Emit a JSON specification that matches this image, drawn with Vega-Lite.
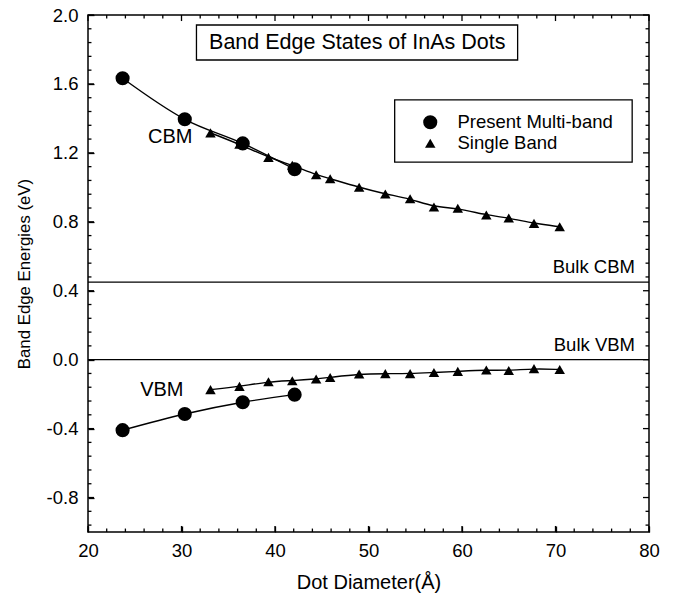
{
  "$schema": "https://vega.github.io/schema/vega-lite/v6.json",
  "autosize": "none",
  "width": 561,
  "height": 517,
  "padding": {"left": 88, "top": 15, "right": 30, "bottom": 67},
  "background": "white",
  "config": {
    "view": {"stroke": "black", "strokeWidth": 1.5},
    "font": "Liberation Sans",
    "axis": {
      "grid": false,
      "domain": false,
      "tickColor": "black",
      "tickWidth": 1.3,
      "labelColor": "black",
      "titleColor": "black",
      "labelFont": "Liberation Sans",
      "titleFont": "Liberation Sans",
      "labelFontSize": 18.5,
      "labelFlush": false,
      "labelOverlap": false,
      "titleFontWeight": "normal"
    },
    "legend": {
      "labelFont": "Liberation Sans",
      "labelFontSize": 18.5,
      "labelColor": "black"
    }
  },
  "datasets": {
    "xt": [
      {"v": 20, "kind": "major"}, {"v": 30, "kind": "major"}, {"v": 40, "kind": "major"}, {"v": 50, "kind": "major"},
      {"v": 60, "kind": "major"}, {"v": 70, "kind": "major"}, {"v": 80, "kind": "major"},
      {"v": 22, "kind": "minor"}, {"v": 24, "kind": "minor"}, {"v": 26, "kind": "minor"}, {"v": 28, "kind": "minor"},
      {"v": 32, "kind": "minor"}, {"v": 34, "kind": "minor"}, {"v": 36, "kind": "minor"}, {"v": 38, "kind": "minor"},
      {"v": 42, "kind": "minor"}, {"v": 44, "kind": "minor"}, {"v": 46, "kind": "minor"}, {"v": 48, "kind": "minor"},
      {"v": 52, "kind": "minor"}, {"v": 54, "kind": "minor"}, {"v": 56, "kind": "minor"}, {"v": 58, "kind": "minor"},
      {"v": 62, "kind": "minor"}, {"v": 64, "kind": "minor"}, {"v": 66, "kind": "minor"}, {"v": 68, "kind": "minor"},
      {"v": 72, "kind": "minor"}, {"v": 74, "kind": "minor"}, {"v": 76, "kind": "minor"}, {"v": 78, "kind": "minor"}
    ],
    "yt": [
      {"v": -0.8, "kind": "major"}, {"v": -0.4, "kind": "major"}, {"v": 0, "kind": "major"}, {"v": 0.4, "kind": "major"},
      {"v": 0.8, "kind": "major"}, {"v": 1.2, "kind": "major"}, {"v": 1.6, "kind": "major"}, {"v": 2.0, "kind": "major"},
      {"v": -0.96, "kind": "minor"}, {"v": -0.88, "kind": "minor"},
      {"v": -0.72, "kind": "minor"}, {"v": -0.64, "kind": "minor"}, {"v": -0.56, "kind": "minor"}, {"v": -0.48, "kind": "minor"},
      {"v": -0.32, "kind": "minor"}, {"v": -0.24, "kind": "minor"}, {"v": -0.16, "kind": "minor"}, {"v": -0.08, "kind": "minor"},
      {"v": 0.08, "kind": "minor"}, {"v": 0.16, "kind": "minor"}, {"v": 0.24, "kind": "minor"}, {"v": 0.32, "kind": "minor"},
      {"v": 0.48, "kind": "minor"}, {"v": 0.56, "kind": "minor"}, {"v": 0.64, "kind": "minor"}, {"v": 0.72, "kind": "minor"},
      {"v": 0.88, "kind": "minor"}, {"v": 0.96, "kind": "minor"}, {"v": 1.04, "kind": "minor"}, {"v": 1.12, "kind": "minor"},
      {"v": 1.28, "kind": "minor"}, {"v": 1.36, "kind": "minor"}, {"v": 1.44, "kind": "minor"}, {"v": 1.52, "kind": "minor"},
      {"v": 1.68, "kind": "minor"}, {"v": 1.76, "kind": "minor"}, {"v": 1.84, "kind": "minor"}, {"v": 1.92, "kind": "minor"}
    ],
    "pts": [
      {"d": 33.1, "e": 1.316, "series": "Single Band", "band": "CBM"},
      {"d": 36.2, "e": 1.25, "series": "Single Band", "band": "CBM"},
      {"d": 39.3, "e": 1.174, "series": "Single Band", "band": "CBM"},
      {"d": 41.85, "e": 1.128, "series": "Single Band", "band": "CBM"},
      {"d": 44.4, "e": 1.073, "series": "Single Band", "band": "CBM"},
      {"d": 45.9, "e": 1.05, "series": "Single Band", "band": "CBM"},
      {"d": 49.0, "e": 1.0, "series": "Single Band", "band": "CBM"},
      {"d": 51.8, "e": 0.961, "series": "Single Band", "band": "CBM"},
      {"d": 54.45, "e": 0.934, "series": "Single Band", "band": "CBM"},
      {"d": 57.0, "e": 0.886, "series": "Single Band", "band": "CBM"},
      {"d": 59.55, "e": 0.879, "series": "Single Band", "band": "CBM"},
      {"d": 62.6, "e": 0.839, "series": "Single Band", "band": "CBM"},
      {"d": 65.0, "e": 0.822, "series": "Single Band", "band": "CBM"},
      {"d": 67.7, "e": 0.791, "series": "Single Band", "band": "CBM"},
      {"d": 70.45, "e": 0.771, "series": "Single Band", "band": "CBM"},
      {"d": 33.1, "e": -0.174, "series": "Single Band", "band": "VBM"},
      {"d": 36.2, "e": -0.155, "series": "Single Band", "band": "VBM"},
      {"d": 39.3, "e": -0.128, "series": "Single Band", "band": "VBM"},
      {"d": 41.85, "e": -0.122, "series": "Single Band", "band": "VBM"},
      {"d": 44.4, "e": -0.112, "series": "Single Band", "band": "VBM"},
      {"d": 45.9, "e": -0.103, "series": "Single Band", "band": "VBM"},
      {"d": 49.0, "e": -0.083, "series": "Single Band", "band": "VBM"},
      {"d": 51.8, "e": -0.081, "series": "Single Band", "band": "VBM"},
      {"d": 54.45, "e": -0.081, "series": "Single Band", "band": "VBM"},
      {"d": 57.0, "e": -0.074, "series": "Single Band", "band": "VBM"},
      {"d": 59.55, "e": -0.068, "series": "Single Band", "band": "VBM"},
      {"d": 62.6, "e": -0.06, "series": "Single Band", "band": "VBM"},
      {"d": 65.0, "e": -0.063, "series": "Single Band", "band": "VBM"},
      {"d": 67.7, "e": -0.052, "series": "Single Band", "band": "VBM"},
      {"d": 70.45, "e": -0.057, "series": "Single Band", "band": "VBM"},
      {"d": 23.7, "e": 1.633, "series": "Present Multi-band", "band": "CBM"},
      {"d": 30.35, "e": 1.395, "series": "Present Multi-band", "band": "CBM"},
      {"d": 36.55, "e": 1.255, "series": "Present Multi-band", "band": "CBM"},
      {"d": 42.1, "e": 1.105, "series": "Present Multi-band", "band": "CBM"},
      {"d": 23.7, "e": -0.409, "series": "Present Multi-band", "band": "VBM"},
      {"d": 30.35, "e": -0.315, "series": "Present Multi-band", "band": "VBM"},
      {"d": 36.55, "e": -0.247, "series": "Present Multi-band", "band": "VBM"},
      {"d": 42.1, "e": -0.203, "series": "Present Multi-band", "band": "VBM"}
    ]
  },
  "layer": [
    {
      "data": {"values": [
        {"x1": 31.6, "x2": 65.95, "y1": 1.739, "y2": 1.942},
        {"x1": 52.8, "x2": 78.2, "y1": 1.146, "y2": 1.507}
      ]},
      "mark": {"type": "rect", "fill": "white", "stroke": "black", "strokeWidth": 1.3},
      "encoding": {
        "x": {"field": "x1", "type": "quantitative", "scale": {"domain": [20, 80], "nice": false},
          "axis": {"orient": "bottom", "values": [20, 30, 40, 50, 60, 70, 80], "ticks": true, "tickSize": 6, "offset": -6, "labelPadding": 9, "format": "d", "title": "Dot Diameter(Å)", "titleFontSize": 20, "titleBaseline": "middle", "titleY": 56}},
        "x2": {"field": "x2"},
        "y": {"field": "y1", "type": "quantitative", "scale": {"domain": [-1, 2], "nice": false, "zero": false},
          "axis": {"orient": "left", "values": [-0.8, -0.4, 0, 0.4, 0.8, 1.2, 1.6, 2.0], "ticks": true, "tickSize": 6, "offset": -6, "labelPadding": 10, "labelExpr": "replace(format(datum.value, '.1f'), '−', '-')", "title": "Band Edge Energies (eV)", "titleFontSize": 16.8, "titleBaseline": "middle", "titleX": -70}},
        "y2": {"field": "y2"}
      }
    },
    {
      "data": {"name": "xt"},
      "transform": [{"filter": "datum.kind === 'major'"}],
      "mark": {"type": "rule", "color": "black", "strokeWidth": 1.3},
      "encoding": {
        "x": {"field": "v", "type": "quantitative", "scale": {"domain": [20, 80], "nice": false},
          "axis": {"orient": "bottom", "values": [20, 30, 40, 50, 60, 70, 80], "ticks": true, "tickSize": 6, "offset": -6, "labelPadding": 9, "format": "d", "title": "Dot Diameter(Å)", "titleFontSize": 20, "titleBaseline": "middle", "titleY": 56}},
        "y": {"datum": -1, "type": "quantitative", "scale": {"domain": [-1, 2], "nice": false, "zero": false},
          "axis": {"orient": "left", "values": [-0.8, -0.4, 0, 0.4, 0.8, 1.2, 1.6, 2.0], "ticks": true, "tickSize": 6, "offset": -6, "labelPadding": 10, "labelExpr": "replace(format(datum.value, '.1f'), '−', '-')", "title": "Band Edge Energies (eV)", "titleFontSize": 16.8, "titleBaseline": "middle", "titleX": -70}},
        "y2": {"datum": -0.965}
      }
    },
    {
      "data": {"name": "xt"},
      "transform": [{"filter": "datum.kind === 'minor'"}],
      "mark": {"type": "rule", "color": "black", "strokeWidth": 1.3},
      "encoding": {
        "x": {"field": "v", "type": "quantitative", "scale": {"domain": [20, 80], "nice": false},
          "axis": {"orient": "bottom", "values": [20, 30, 40, 50, 60, 70, 80], "ticks": true, "tickSize": 6, "offset": -6, "labelPadding": 9, "format": "d", "title": "Dot Diameter(Å)", "titleFontSize": 20, "titleBaseline": "middle", "titleY": 56}},
        "y": {"datum": -1, "type": "quantitative", "scale": {"domain": [-1, 2], "nice": false, "zero": false},
          "axis": {"orient": "left", "values": [-0.8, -0.4, 0, 0.4, 0.8, 1.2, 1.6, 2.0], "ticks": true, "tickSize": 6, "offset": -6, "labelPadding": 10, "labelExpr": "replace(format(datum.value, '.1f'), '−', '-')", "title": "Band Edge Energies (eV)", "titleFontSize": 16.8, "titleBaseline": "middle", "titleX": -70}},
        "y2": {"datum": -0.98}
      }
    },
    {
      "data": {"name": "xt"},
      "transform": [{"filter": "datum.kind === 'major'"}],
      "mark": {"type": "rule", "color": "black", "strokeWidth": 1.3},
      "encoding": {
        "x": {"field": "v", "type": "quantitative", "scale": {"domain": [20, 80], "nice": false},
          "axis": {"orient": "bottom", "values": [20, 30, 40, 50, 60, 70, 80], "ticks": true, "tickSize": 6, "offset": -6, "labelPadding": 9, "format": "d", "title": "Dot Diameter(Å)", "titleFontSize": 20, "titleBaseline": "middle", "titleY": 56}},
        "y": {"datum": 2, "type": "quantitative", "scale": {"domain": [-1, 2], "nice": false, "zero": false},
          "axis": {"orient": "left", "values": [-0.8, -0.4, 0, 0.4, 0.8, 1.2, 1.6, 2.0], "ticks": true, "tickSize": 6, "offset": -6, "labelPadding": 10, "labelExpr": "replace(format(datum.value, '.1f'), '−', '-')", "title": "Band Edge Energies (eV)", "titleFontSize": 16.8, "titleBaseline": "middle", "titleX": -70}},
        "y2": {"datum": 1.965}
      }
    },
    {
      "data": {"name": "xt"},
      "transform": [{"filter": "datum.kind === 'minor'"}],
      "mark": {"type": "rule", "color": "black", "strokeWidth": 1.3},
      "encoding": {
        "x": {"field": "v", "type": "quantitative", "scale": {"domain": [20, 80], "nice": false},
          "axis": {"orient": "bottom", "values": [20, 30, 40, 50, 60, 70, 80], "ticks": true, "tickSize": 6, "offset": -6, "labelPadding": 9, "format": "d", "title": "Dot Diameter(Å)", "titleFontSize": 20, "titleBaseline": "middle", "titleY": 56}},
        "y": {"datum": 2, "type": "quantitative", "scale": {"domain": [-1, 2], "nice": false, "zero": false},
          "axis": {"orient": "left", "values": [-0.8, -0.4, 0, 0.4, 0.8, 1.2, 1.6, 2.0], "ticks": true, "tickSize": 6, "offset": -6, "labelPadding": 10, "labelExpr": "replace(format(datum.value, '.1f'), '−', '-')", "title": "Band Edge Energies (eV)", "titleFontSize": 16.8, "titleBaseline": "middle", "titleX": -70}},
        "y2": {"datum": 1.98}
      }
    },
    {
      "data": {"name": "yt"},
      "transform": [{"filter": "datum.kind === 'major'"}],
      "mark": {"type": "rule", "color": "black", "strokeWidth": 1.3},
      "encoding": {
        "y": {"field": "v", "type": "quantitative", "scale": {"domain": [-1, 2], "nice": false, "zero": false},
          "axis": {"orient": "left", "values": [-0.8, -0.4, 0, 0.4, 0.8, 1.2, 1.6, 2.0], "ticks": true, "tickSize": 6, "offset": -6, "labelPadding": 10, "labelExpr": "replace(format(datum.value, '.1f'), '−', '-')", "title": "Band Edge Energies (eV)", "titleFontSize": 16.8, "titleBaseline": "middle", "titleX": -70}},
        "x": {"datum": 20, "type": "quantitative", "scale": {"domain": [20, 80], "nice": false},
          "axis": {"orient": "bottom", "values": [20, 30, 40, 50, 60, 70, 80], "ticks": true, "tickSize": 6, "offset": -6, "labelPadding": 9, "format": "d", "title": "Dot Diameter(Å)", "titleFontSize": 20, "titleBaseline": "middle", "titleY": 56}},
        "x2": {"datum": 20.64}
      }
    },
    {
      "data": {"name": "yt"},
      "transform": [{"filter": "datum.kind === 'minor'"}],
      "mark": {"type": "rule", "color": "black", "strokeWidth": 1.3},
      "encoding": {
        "y": {"field": "v", "type": "quantitative", "scale": {"domain": [-1, 2], "nice": false, "zero": false},
          "axis": {"orient": "left", "values": [-0.8, -0.4, 0, 0.4, 0.8, 1.2, 1.6, 2.0], "ticks": true, "tickSize": 6, "offset": -6, "labelPadding": 10, "labelExpr": "replace(format(datum.value, '.1f'), '−', '-')", "title": "Band Edge Energies (eV)", "titleFontSize": 16.8, "titleBaseline": "middle", "titleX": -70}},
        "x": {"datum": 20, "type": "quantitative", "scale": {"domain": [20, 80], "nice": false},
          "axis": {"orient": "bottom", "values": [20, 30, 40, 50, 60, 70, 80], "ticks": true, "tickSize": 6, "offset": -6, "labelPadding": 9, "format": "d", "title": "Dot Diameter(Å)", "titleFontSize": 20, "titleBaseline": "middle", "titleY": 56}},
        "x2": {"datum": 20.37}
      }
    },
    {
      "data": {"name": "yt"},
      "transform": [{"filter": "datum.kind === 'major'"}],
      "mark": {"type": "rule", "color": "black", "strokeWidth": 1.3},
      "encoding": {
        "y": {"field": "v", "type": "quantitative", "scale": {"domain": [-1, 2], "nice": false, "zero": false},
          "axis": {"orient": "left", "values": [-0.8, -0.4, 0, 0.4, 0.8, 1.2, 1.6, 2.0], "ticks": true, "tickSize": 6, "offset": -6, "labelPadding": 10, "labelExpr": "replace(format(datum.value, '.1f'), '−', '-')", "title": "Band Edge Energies (eV)", "titleFontSize": 16.8, "titleBaseline": "middle", "titleX": -70}},
        "x": {"datum": 80, "type": "quantitative", "scale": {"domain": [20, 80], "nice": false},
          "axis": {"orient": "bottom", "values": [20, 30, 40, 50, 60, 70, 80], "ticks": true, "tickSize": 6, "offset": -6, "labelPadding": 9, "format": "d", "title": "Dot Diameter(Å)", "titleFontSize": 20, "titleBaseline": "middle", "titleY": 56}},
        "x2": {"datum": 79.36}
      }
    },
    {
      "data": {"name": "yt"},
      "transform": [{"filter": "datum.kind === 'minor'"}],
      "mark": {"type": "rule", "color": "black", "strokeWidth": 1.3},
      "encoding": {
        "y": {"field": "v", "type": "quantitative", "scale": {"domain": [-1, 2], "nice": false, "zero": false},
          "axis": {"orient": "left", "values": [-0.8, -0.4, 0, 0.4, 0.8, 1.2, 1.6, 2.0], "ticks": true, "tickSize": 6, "offset": -6, "labelPadding": 10, "labelExpr": "replace(format(datum.value, '.1f'), '−', '-')", "title": "Band Edge Energies (eV)", "titleFontSize": 16.8, "titleBaseline": "middle", "titleX": -70}},
        "x": {"datum": 80, "type": "quantitative", "scale": {"domain": [20, 80], "nice": false},
          "axis": {"orient": "bottom", "values": [20, 30, 40, 50, 60, 70, 80], "ticks": true, "tickSize": 6, "offset": -6, "labelPadding": 9, "format": "d", "title": "Dot Diameter(Å)", "titleFontSize": 20, "titleBaseline": "middle", "titleY": 56}},
        "x2": {"datum": 79.63}
      }
    },
    {
      "data": {"values": [{"e": 0.45}, {"e": 0}]},
      "mark": {"type": "rule", "color": "black", "strokeWidth": 1.2},
      "encoding": {
        "y": {"field": "e", "type": "quantitative", "scale": {"domain": [-1, 2], "nice": false, "zero": false},
          "axis": {"orient": "left", "values": [-0.8, -0.4, 0, 0.4, 0.8, 1.2, 1.6, 2.0], "ticks": true, "tickSize": 6, "offset": -6, "labelPadding": 10, "labelExpr": "replace(format(datum.value, '.1f'), '−', '-')", "title": "Band Edge Energies (eV)", "titleFontSize": 16.8, "titleBaseline": "middle", "titleX": -70}}
      }
    },
    {
      "data": {"name": "pts"},
      "transform": [{"filter": "datum.series === 'Present Multi-band'"}],
      "mark": {"type": "line", "color": "black", "strokeWidth": 1.4, "interpolate": "monotone"},
      "encoding": {
        "x": {"field": "d", "type": "quantitative", "scale": {"domain": [20, 80], "nice": false},
          "axis": {"orient": "bottom", "values": [20, 30, 40, 50, 60, 70, 80], "ticks": true, "tickSize": 6, "offset": -6, "labelPadding": 9, "format": "d", "title": "Dot Diameter(Å)", "titleFontSize": 20, "titleBaseline": "middle", "titleY": 56}},
        "y": {"field": "e", "type": "quantitative", "scale": {"domain": [-1, 2], "nice": false, "zero": false},
          "axis": {"orient": "left", "values": [-0.8, -0.4, 0, 0.4, 0.8, 1.2, 1.6, 2.0], "ticks": true, "tickSize": 6, "offset": -6, "labelPadding": 10, "labelExpr": "replace(format(datum.value, '.1f'), '−', '-')", "title": "Band Edge Energies (eV)", "titleFontSize": 16.8, "titleBaseline": "middle", "titleX": -70}},
        "detail": {"field": "band"}
      }
    },
    {
      "data": {"name": "pts"},
      "transform": [{"filter": "datum.series === 'Single Band'"}],
      "mark": {"type": "line", "color": "black", "strokeWidth": 1.4, "interpolate": "basis"},
      "encoding": {
        "x": {"field": "d", "type": "quantitative", "scale": {"domain": [20, 80], "nice": false},
          "axis": {"orient": "bottom", "values": [20, 30, 40, 50, 60, 70, 80], "ticks": true, "tickSize": 6, "offset": -6, "labelPadding": 9, "format": "d", "title": "Dot Diameter(Å)", "titleFontSize": 20, "titleBaseline": "middle", "titleY": 56}},
        "y": {"field": "e", "type": "quantitative", "scale": {"domain": [-1, 2], "nice": false, "zero": false},
          "axis": {"orient": "left", "values": [-0.8, -0.4, 0, 0.4, 0.8, 1.2, 1.6, 2.0], "ticks": true, "tickSize": 6, "offset": -6, "labelPadding": 10, "labelExpr": "replace(format(datum.value, '.1f'), '−', '-')", "title": "Band Edge Energies (eV)", "titleFontSize": 16.8, "titleBaseline": "middle", "titleX": -70}},
        "detail": {"field": "band"}
      }
    },
    {
      "data": {"values": [{"d": 48.8, "e": 1.84, "label": "Band Edge States of InAs Dots"}]},
      "mark": {"type": "text", "fontSize": 21.5, "color": "black", "align": "center", "baseline": "middle"},
      "encoding": {
        "x": {"field": "d", "type": "quantitative", "scale": {"domain": [20, 80], "nice": false},
          "axis": {"orient": "bottom", "values": [20, 30, 40, 50, 60, 70, 80], "ticks": true, "tickSize": 6, "offset": -6, "labelPadding": 9, "format": "d", "title": "Dot Diameter(Å)", "titleFontSize": 20, "titleBaseline": "middle", "titleY": 56}},
        "y": {"field": "e", "type": "quantitative", "scale": {"domain": [-1, 2], "nice": false, "zero": false},
          "axis": {"orient": "left", "values": [-0.8, -0.4, 0, 0.4, 0.8, 1.2, 1.6, 2.0], "ticks": true, "tickSize": 6, "offset": -6, "labelPadding": 10, "labelExpr": "replace(format(datum.value, '.1f'), '−', '-')", "title": "Band Edge Energies (eV)", "titleFontSize": 16.8, "titleBaseline": "middle", "titleX": -70}},
        "text": {"field": "label"}
      }
    },
    {
      "data": {"values": [{"d": 28.8, "e": 1.29, "label": "CBM"}, {"d": 27.9, "e": -0.177, "label": "VBM"}]},
      "mark": {"type": "text", "fontSize": 20, "color": "black", "align": "center", "baseline": "middle"},
      "encoding": {
        "x": {"field": "d", "type": "quantitative", "scale": {"domain": [20, 80], "nice": false},
          "axis": {"orient": "bottom", "values": [20, 30, 40, 50, 60, 70, 80], "ticks": true, "tickSize": 6, "offset": -6, "labelPadding": 9, "format": "d", "title": "Dot Diameter(Å)", "titleFontSize": 20, "titleBaseline": "middle", "titleY": 56}},
        "y": {"field": "e", "type": "quantitative", "scale": {"domain": [-1, 2], "nice": false, "zero": false},
          "axis": {"orient": "left", "values": [-0.8, -0.4, 0, 0.4, 0.8, 1.2, 1.6, 2.0], "ticks": true, "tickSize": 6, "offset": -6, "labelPadding": 10, "labelExpr": "replace(format(datum.value, '.1f'), '−', '-')", "title": "Band Edge Energies (eV)", "titleFontSize": 16.8, "titleBaseline": "middle", "titleX": -70}},
        "text": {"field": "label"}
      }
    },
    {
      "data": {"values": [{"d": 78.5, "e": 0.539, "label": "Bulk CBM"}, {"d": 78.5, "e": 0.087, "label": "Bulk VBM"}]},
      "mark": {"type": "text", "fontSize": 18.5, "color": "black", "align": "right", "baseline": "middle"},
      "encoding": {
        "x": {"field": "d", "type": "quantitative", "scale": {"domain": [20, 80], "nice": false},
          "axis": {"orient": "bottom", "values": [20, 30, 40, 50, 60, 70, 80], "ticks": true, "tickSize": 6, "offset": -6, "labelPadding": 9, "format": "d", "title": "Dot Diameter(Å)", "titleFontSize": 20, "titleBaseline": "middle", "titleY": 56}},
        "y": {"field": "e", "type": "quantitative", "scale": {"domain": [-1, 2], "nice": false, "zero": false},
          "axis": {"orient": "left", "values": [-0.8, -0.4, 0, 0.4, 0.8, 1.2, 1.6, 2.0], "ticks": true, "tickSize": 6, "offset": -6, "labelPadding": 10, "labelExpr": "replace(format(datum.value, '.1f'), '−', '-')", "title": "Band Edge Energies (eV)", "titleFontSize": 16.8, "titleBaseline": "middle", "titleX": -70}},
        "text": {"field": "label"}
      }
    },
    {
      "data": {"name": "pts"},
      "mark": {"type": "point", "filled": true, "color": "black", "opacity": 1},
      "encoding": {
        "x": {"field": "d", "type": "quantitative", "scale": {"domain": [20, 80], "nice": false},
          "axis": {"orient": "bottom", "values": [20, 30, 40, 50, 60, 70, 80], "ticks": true, "tickSize": 6, "offset": -6, "labelPadding": 9, "format": "d", "title": "Dot Diameter(Å)", "titleFontSize": 20, "titleBaseline": "middle", "titleY": 56}},
        "y": {"field": "e", "type": "quantitative", "scale": {"domain": [-1, 2], "nice": false, "zero": false},
          "axis": {"orient": "left", "values": [-0.8, -0.4, 0, 0.4, 0.8, 1.2, 1.6, 2.0], "ticks": true, "tickSize": 6, "offset": -6, "labelPadding": 10, "labelExpr": "replace(format(datum.value, '.1f'), '−', '-')", "title": "Band Edge Energies (eV)", "titleFontSize": 16.8, "titleBaseline": "middle", "titleX": -70}},
        "shape": {"field": "series", "type": "nominal",
          "scale": {"domain": ["Present Multi-band", "Single Band"], "range": ["circle", "triangle-up"]},
          "legend": {"orient": "none", "legendX": 333, "legendY": 98, "title": null, "padding": 0, "labelOffset": 18, "rowPadding": 2,
            "symbolFillColor": "black", "symbolStrokeColor": "black", "symbolStrokeWidth": 0}},
        "size": {"field": "series", "type": "nominal",
          "scale": {"domain": ["Present Multi-band", "Single Band"], "range": [200, 110]},
          "legend": {"orient": "none", "legendX": 333, "legendY": 98, "title": null, "padding": 0, "labelOffset": 18, "rowPadding": 2,
            "symbolFillColor": "black", "symbolStrokeColor": "black", "symbolStrokeWidth": 0}}
      }
    }
  ]
}
